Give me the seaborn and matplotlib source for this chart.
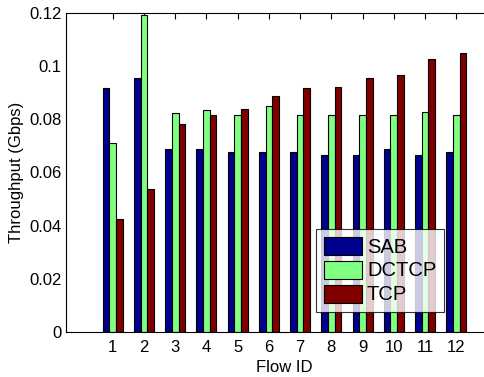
import matplotlib
matplotlib.use("Agg")
import matplotlib.pyplot as plt
import seaborn as sns
import pandas as pd

flows = [str(i) for i in range(1, 13)]
sab = [0.0919, 0.0955, 0.0687, 0.0688, 0.0678, 0.0677, 0.0676, 0.0666, 0.0665, 0.0687, 0.0665, 0.0676]
dctcp = [0.0710, 0.1192, 0.0825, 0.0836, 0.0815, 0.0850, 0.0815, 0.0815, 0.0815, 0.0817, 0.0826, 0.0815]
tcp = [0.0425, 0.0538, 0.0781, 0.0815, 0.0840, 0.0887, 0.0918, 0.0920, 0.0957, 0.0966, 0.1027, 0.1051]
series = ["SAB", "DCTCP", "TCP"]
colors = ["#00008F", "#80FF80", "#800000"]

df = pd.DataFrame({
    "Flow ID": flows * 3,
    "Throughput": sab + dctcp + tcp,
    "Protocol": [s for s in series for _ in flows],
})

sns.set_theme(style="white")
plt.rcParams["font.family"] = ["Liberation Sans", "DejaVu Sans"]
plt.rcParams["text.color"] = "black"
plt.rcParams["axes.labelcolor"] = "black"
plt.rcParams["xtick.color"] = "black"
plt.rcParams["ytick.color"] = "black"

fig = plt.figure(figsize=(4.85, 3.77), dpi=100)
ax = fig.add_axes([66 / 485, 45 / 377, (503 - 66) / 485, (332 - 13) / 377])

sns.barplot(data=df, x="Flow ID", y="Throughput", hue="Protocol",
            hue_order=series, order=flows, palette=colors, width=0.64,
            edgecolor="black", linewidth=0.8, ax=ax, saturation=1)

ax.set_xlim(-1.5, 12.5)
ax.set_ylim(0, 0.12)
ax.set_yticks([0, 0.02, 0.04, 0.06, 0.08, 0.1, 0.12])
ax.set_yticklabels(["0", "0.02", "0.04", "0.06", "0.08", "0.1", "0.12"])
ax.tick_params(direction="in", top=True, right=False, length=4, width=0.8,
               labelsize=12, colors="black")
ax.tick_params(axis="x", pad=6)
ax.tick_params(axis="y", pad=3)
for name, s in ax.spines.items():
    s.set_visible(name != "right")
    s.set_color("black")
    s.set_linewidth(0.8)
ax.set_xlabel("Flow ID", fontsize=12, labelpad=3, color="black")
ax.set_ylabel("Throughput (Gbps)", fontsize=12, labelpad=4, color="black")

leg = ax.legend(loc="upper left", bbox_to_anchor=(316 / 485, 1 - 229 / 377),
                bbox_transform=fig.transFigure, fontsize=14.5, frameon=True,
                fancybox=False, handlelength=1.9, handleheight=1.0,
                handletextpad=0.25, labelspacing=0.2, borderpad=0.38,
                borderaxespad=0)
leg.get_frame().set_edgecolor("black")
leg.get_frame().set_linewidth(0.8)
for t in leg.get_texts():
    t.set_color("black")

fig.savefig("out.png", dpi=100)
